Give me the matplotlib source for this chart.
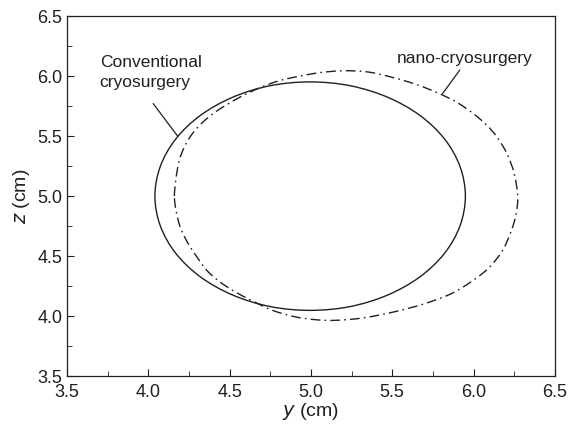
'''
Freezing front contours: conventional cryosurgery vs nano-cryosurgery
'''
import matplotlib.pyplot as plt
from matplotlib.path import Path
from matplotlib.patches import PathPatch
from matplotlib.ticker import MultipleLocator

plt.rcParams['font.family'] = ['Liberation Sans', 'DejaVu Sans']

# conventional cryosurgery ice front (y, z in cm), closed loop
conv_y = [5.950, 5.917, 5.822, 5.670, 5.472, 5.242, 4.995, 4.748, 4.518, 4.320,
          4.168, 4.073, 4.040, 4.073, 4.168, 4.320, 4.518, 4.748, 4.995, 5.242,
          5.472, 5.670, 5.822, 5.917]
conv_z = [5.000, 5.247, 5.476, 5.673, 5.824, 5.920, 5.952, 5.920, 5.824, 5.673,
          5.476, 5.247, 5.000, 4.753, 4.524, 4.327, 4.176, 4.080, 4.048, 4.080,
          4.176, 4.327, 4.524, 4.753]

# nano-cryosurgery ice front (y, z in cm), closed loop
nano_y = [4.160, 4.170, 4.190, 4.225, 4.270, 4.330, 4.400, 4.480, 4.570, 4.680,
          4.800, 4.930, 5.060, 5.200, 5.350, 5.500, 5.650, 5.780, 5.900, 6.020,
          6.120, 6.200, 6.250, 6.272, 6.262, 6.232, 6.180, 6.100, 6.000, 5.860,
          5.690, 5.510, 5.320, 5.150, 5.030, 4.900, 4.760, 4.635, 4.530, 4.440,
          4.360, 4.300, 4.240, 4.195, 4.170]
nano_z = [5.000, 5.150, 5.300, 5.420, 5.520, 5.610, 5.690, 5.760, 5.830, 5.900,
          5.960, 6.000, 6.030, 6.045, 6.035, 5.990, 5.930, 5.860, 5.780, 5.665,
          5.535, 5.370, 5.190, 5.000, 4.850, 4.710, 4.550, 4.410, 4.300, 4.185,
          4.100, 4.035, 3.985, 3.965, 3.970, 3.995, 4.050, 4.130, 4.205, 4.285,
          4.380, 4.490, 4.615, 4.745, 4.880]

ink = '#231f20'


def closed_curve(ys, zs):
    '''
    Smooth closed path through the given points (Catmull-Rom as cubic Beziers)
    '''
    pts = list(zip(ys, zs))
    n = len(pts)
    verts = [pts[0]]
    codes = [Path.MOVETO]
    for i in range(n):
        p0, p1, p2, p3 = pts[i - 1], pts[i], pts[(i + 1) % n], pts[(i + 2) % n]
        c1 = (p1[0] + (p2[0] - p0[0]) / 6, p1[1] + (p2[1] - p0[1]) / 6)
        c2 = (p2[0] - (p3[0] - p1[0]) / 6, p2[1] - (p3[1] - p1[1]) / 6)
        verts += [c1, c2, p2]
        codes += [Path.CURVE4] * 3
    return Path(verts, codes)


fig = plt.figure(figsize=(5.69, 4.25), dpi=100)
ax = fig.add_axes([0.118, 0.115, 0.857, 0.847])

ax.add_patch(PathPatch(closed_curve(conv_y, conv_z), fill=False,
                       edgecolor=ink, lw=1.0))
ax.add_patch(PathPatch(closed_curve(nano_y, nano_z), fill=False,
                       edgecolor=ink, lw=1.0, linestyle=(0, (7, 3, 1.2, 3))))

# curve labels with leader lines
ax.text(3.70, 6.03, 'Conventional\ncryosurgery', fontsize=12.5, color=ink,
        ha='left', va='center', linespacing=1.4)
ax.plot([4.03, 4.18], [5.77, 5.50], color=ink, lw=0.9)
ax.text(5.53, 6.15, 'nano-cryosurgery', fontsize=12.5, color=ink,
        ha='left', va='center')
ax.plot([5.915, 5.81], [6.05, 5.855], color=ink, lw=0.9)

ax.set_xlim(3.5, 6.5)
ax.set_ylim(3.5, 6.5)
ax.xaxis.set_major_locator(MultipleLocator(0.5))
ax.xaxis.set_minor_locator(MultipleLocator(0.25))
ax.yaxis.set_major_locator(MultipleLocator(0.5))
ax.yaxis.set_minor_locator(MultipleLocator(0.25))
ax.xaxis.set_major_formatter('{x:.1f}')
ax.yaxis.set_major_formatter('{x:.1f}')
ax.tick_params(which='both', direction='in', top=False, right=False,
               labelsize=13, labelcolor=ink, color=ink)
ax.tick_params(axis='x', which='both', pad=6)
ax.tick_params(axis='y', which='both', pad=3.5)
ax.tick_params(which='major', length=5)
ax.tick_params(which='minor', length=3.5)
for side in ax.spines.values():
    side.set_color(ink)
    side.set_linewidth(0.9)

ax.set_xlabel(r'$\it{y}$ (cm)', fontsize=14, color=ink, labelpad=0)
ax.set_ylabel(r'$\it{z}$ (cm)', fontsize=14, color=ink, labelpad=4)

plt.savefig('out.png', dpi=100)
